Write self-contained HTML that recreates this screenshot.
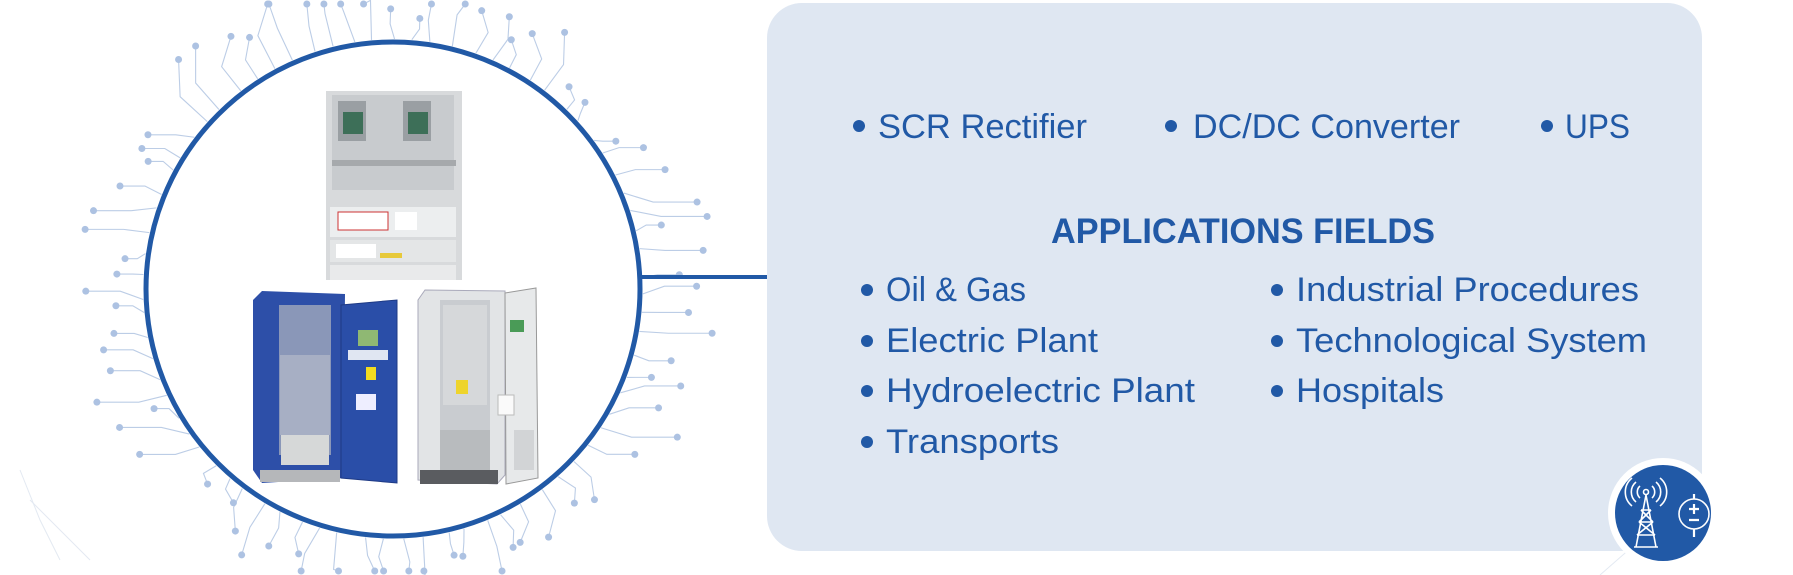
<!DOCTYPE html>
<html><head><meta charset="utf-8"><style>
html,body{margin:0;padding:0;background:#fff;width:1793px;height:575px;overflow:hidden}
svg{display:block}
text{font-family:"Liberation Sans",sans-serif;fill:#2159a6}
</style></head><body>
<svg id="s" width="1793" height="575" viewBox="0 0 1793 575" xmlns="http://www.w3.org/2000/svg">
<g stroke="#e3e9f2" stroke-width="1" fill="none">
<polyline points="20,470 40,520 60,560"/><polyline points="30,500 90,560"/><polyline points="1600,575 1640,540 1660,500"/>
</g>
<g id="deco" stroke="#bccde6" stroke-width="1.1" fill="none"></g>
<g id="dots" fill="#adc2e2"></g>
<rect x="767" y="3" width="935" height="548" rx="35" fill="#dfe7f2"/>
<line x1="638" y1="277" x2="767" y2="277" stroke="#2159a6" stroke-width="4"/>
<circle cx="393" cy="289" r="247" fill="#fff" stroke="#2159a6" stroke-width="5"/>
<rect x="326" y="91" width="136" height="189" fill="#d8dadc"/>
<rect x="332" y="95" width="122" height="95" fill="#c8cbce"/>
<rect x="338" y="101" width="28" height="40" fill="#9a9fa3"/>
<rect x="403" y="101" width="28" height="40" fill="#9a9fa3"/>
<rect x="343" y="112" width="20" height="22" fill="#3d6f58"/>
<rect x="408" y="112" width="20" height="22" fill="#3d6f58"/>
<rect x="332" y="160" width="124" height="6" fill="#a6a9ac"/>
<rect x="330" y="207" width="126" height="30" fill="#eceeef"/>
<rect x="338" y="212" width="50" height="18" fill="#fff" stroke="#c33" stroke-width="1"/>
<rect x="395" y="212" width="22" height="18" fill="#fff"/>
<rect x="330" y="240" width="126" height="22" fill="#e4e6e7"/>
<rect x="336" y="244" width="40" height="14" fill="#fff"/>
<rect x="380" y="253" width="22" height="5" fill="#e7c93a"/>
<rect x="330" y="265" width="126" height="15" fill="#e9eaeb"/>
<polygon points="253,300 262,291 345,294 343,478 262,483 253,470" fill="#2d4fa8"/>
<rect x="279" y="305" width="52" height="150" fill="#8a97b8"/>
<rect x="280" y="355" width="50" height="80" fill="#a7afc4"/>
<rect x="281" y="435" width="48" height="30" fill="#d6d8d8"/>
<polygon points="341,305 397,300 397,483 341,478" fill="#2a4ea8" stroke="#1e3a85"/>
<rect x="358" y="330" width="20" height="16" fill="#8fb873"/>
<rect x="348" y="350" width="40" height="10" fill="#e0e6f2"/>
<rect x="366" y="367" width="10" height="13" fill="#f2dc20"/>
<rect x="356" y="394" width="20" height="16" fill="#eef"/>
<rect x="260" y="470" width="80" height="12" fill="#b5b7ba"/>
<polygon points="418,300 425,290 505,291 505,475 497,484 418,480" fill="#e2e4e6" stroke="#aab"/>
<rect x="440" y="300" width="50" height="180" fill="#c9ccd0"/>
<rect x="443" y="305" width="44" height="100" fill="#d6d8da"/>
<rect x="456" y="380" width="12" height="14" fill="#eed42c"/>
<rect x="440" y="430" width="50" height="40" fill="#b8bbbe"/>
<rect x="420" y="470" width="78" height="14" fill="#5a5c60"/>
<polygon points="505,293 536,288 538,478 506,484" fill="#e7e9ea" stroke="#999"/>
<rect x="510" y="320" width="14" height="12" fill="#4a9b57"/>
<rect x="498" y="395" width="16" height="20" fill="#fafafa" stroke="#bbb"/>
<rect x="514" y="430" width="20" height="40" fill="#d2d4d6"/>
<g fill="#2159a6">
<circle cx="859" cy="126" r="6"/><circle cx="1171" cy="126" r="6"/><circle cx="1547" cy="126" r="6"/>
<circle cx="867" cy="290" r="6"/><circle cx="867" cy="341" r="6"/><circle cx="867" cy="391" r="6"/><circle cx="867" cy="442" r="6"/>
<circle cx="1277" cy="290" r="6"/><circle cx="1277" cy="341" r="6"/><circle cx="1277" cy="391" r="6"/>
</g>
<g font-size="34">
<text x="878" y="138" textLength="209" lengthAdjust="spacingAndGlyphs">SCR Rectifier</text>
<text x="1193" y="138" textLength="267" lengthAdjust="spacingAndGlyphs">DC/DC Converter</text>
<text x="1565" y="138" textLength="65" lengthAdjust="spacingAndGlyphs">UPS</text>
<text x="886" y="301" textLength="140" lengthAdjust="spacingAndGlyphs">Oil &amp; Gas</text>
<text x="886" y="352" textLength="212" lengthAdjust="spacingAndGlyphs">Electric Plant</text>
<text x="886" y="402" textLength="309" lengthAdjust="spacingAndGlyphs">Hydroelectric Plant</text>
<text x="886" y="453" textLength="173" lengthAdjust="spacingAndGlyphs">Transports</text>
<text x="1296" y="301" textLength="343" lengthAdjust="spacingAndGlyphs">Industrial Procedures</text>
<text x="1296" y="352" textLength="351" lengthAdjust="spacingAndGlyphs">Technological System</text>
<text x="1296" y="402" textLength="148" lengthAdjust="spacingAndGlyphs">Hospitals</text>
</g>
<text x="1051" y="243" font-size="35" font-weight="bold" textLength="384" lengthAdjust="spacingAndGlyphs">APPLICATIONS FIELDS</text>
<circle cx="1663" cy="513" r="55" fill="#fff"/>
<circle cx="1663" cy="513" r="48" fill="#2159a6"/>
<g stroke="#fff" stroke-width="1.6" fill="none">
<circle cx="1646" cy="492" r="2.5"/>
<path d="M1646 495 L1636 547 M1646 495 L1656 547 M1634 547 H1658 M1641 510 H1651 M1639 522 H1653 M1637 535 H1655 M1641 510 L1653 522 M1651 510 L1639 522 M1639 522 L1655 535 M1653 522 L1637 535"/>
<path d="M1640 486 a8 8 0 0 0 0 12 M1652 486 a8 8 0 0 1 0 12 M1636 482 a13 13 0 0 0 0 20 M1656 482 a13 13 0 0 1 0 20 M1632 478 a18 18 0 0 0 0 28 M1660 478 a18 18 0 0 1 0 28"/>
<circle cx="1694" cy="514" r="15"/>
<path d="M1694 494 V499 M1694 529 V537 M1689 509 H1699 M1694 504 V514 M1689 520 H1699" stroke-width="2.2"/>
</g>
</svg>
<script>
(function(){
var ns="http://www.w3.org/2000/svg",g=document.getElementById('deco'),d=document.getElementById('dots');
var seed=7;function r(){seed=(seed*9301+49297)%233280;return seed/233280;}
var cx=393,cy=289;
for(var i=0;i<75;i++){
 var a=i/75*Math.PI*2+r()*0.04;
 var r0=250,len=20+r()*60;
 var x0=cx+Math.cos(a)*r0,y0=cy+Math.sin(a)*r0;
 var horiz=Math.abs(Math.cos(a))>0.75;
 var x1,y1,x2,y2;
 if(horiz){x1=x0+Math.sign(Math.cos(a))*len*0.4;y1=y0+(r()-0.5)*20;x2=x1+Math.sign(Math.cos(a))*len*0.6;y2=y1;}
 else{x1=x0+Math.cos(a)*len*0.5+(r()-0.5)*15;y1=y0+Math.sin(a)*len*0.5;x2=x1+(r()-0.5)*20;y2=y1+Math.sign(Math.sin(a))*len*0.5;}
 if(y2<4)y2=4;if(y2>571)y2=571;
 var p=document.createElementNS(ns,'polyline');p.setAttribute('points',x0+','+y0+' '+x1+','+y1+' '+x2+','+y2);g.appendChild(p);
 var c=document.createElementNS(ns,'circle');c.setAttribute('cx',x2);c.setAttribute('cy',y2);c.setAttribute('r',3.5);d.appendChild(c);
}
})();
</script>
</body></html>
